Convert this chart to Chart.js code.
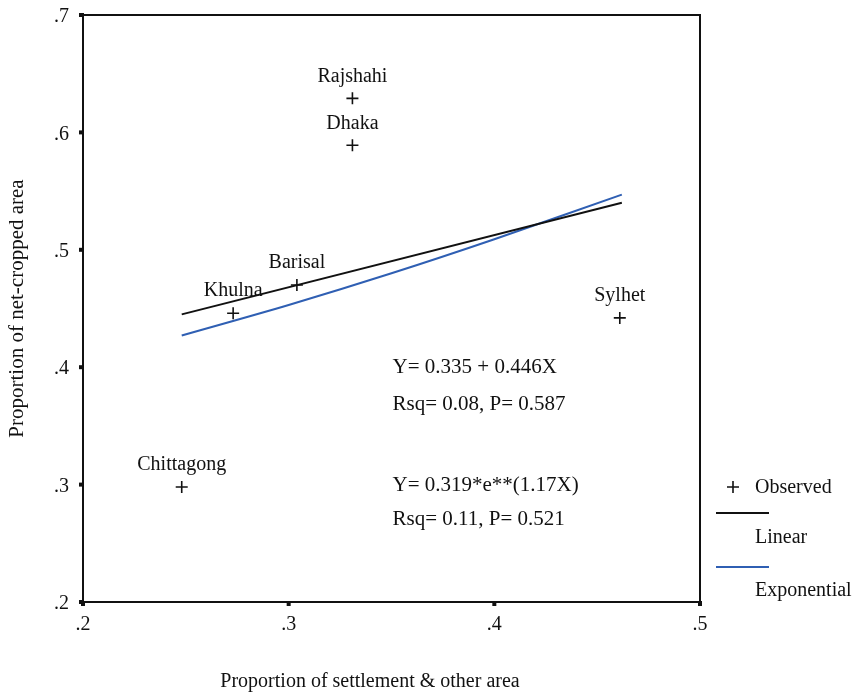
<!DOCTYPE html>
<html>
<head>
<meta charset="utf-8">
<script src="https://cdn.jsdelivr.net/npm/chart.js@4/dist/chart.umd.min.js"></script>
<style>
html,body{margin:0;padding:0;background:#fff;}
canvas{display:block;}
</style>
</head>
<body>
<canvas id="c" width="857" height="697"></canvas>
<script>
// ---- Data ----
const regions = ['Chittagong', 'Khulna', 'Barisal', 'Rajshahi', 'Dhaka', 'Sylhet'];
const settlementShare = [0.248, 0.273, 0.304, 0.331, 0.331, 0.461];
const netCroppedShare = [0.298, 0.446, 0.470, 0.629, 0.589, 0.442];

const linearX = [0.248, 0.462];
const linearY = [0.445, 0.540];

const expX = [0.248, 0.300, 0.350, 0.400, 0.462];
const expY = [0.427, 0.453, 0.480, 0.509, 0.547];

const xTickValues = [0.2, 0.3, 0.4, 0.5];
const yTickValues = [0.2, 0.3, 0.4, 0.5, 0.6, 0.7];

const fitTexts = ['Y= 0.335 + 0.446X', 'Rsq= 0.08, P= 0.587', 'Y= 0.319*e**(1.17X)', 'Rsq= 0.11, P= 0.521'];
const legendLabels = ['Observed', 'Linear', 'Exponential'];
const xTitle = 'Proportion of settlement & other area';
const yTitle = 'Proportion of net-cropped area';

// ---- Build datasets ----
const toPts = (xs, ys) => xs.map((x, i) => ({x: x, y: ys[i]}));
const FONT = "'Liberation Serif', 'DejaVu Serif', serif";
const BLUE = '#2f5fb3';
const fmt = v => Number(v).toFixed(1).replace(/^0/, '');

const overlay = {
  id: 'overlay',
  afterDraw(chart) {
    const ctx = chart.ctx;
    const a = chart.chartArea;
    const xs = chart.scales.x, ys = chart.scales.y;
    ctx.save();
    // frame
    ctx.strokeStyle = '#111';
    ctx.lineWidth = 2;
    ctx.strokeRect(a.left, a.top, a.right - a.left, a.bottom - a.top);
    // tick squares
    ctx.fillStyle = '#111';
    xTickValues.forEach(v => {
      const px = xs.getPixelForValue(v);
      ctx.fillRect(px - 2, a.bottom - 1, 4, 5);
    });
    yTickValues.forEach(v => {
      const py = ys.getPixelForValue(v);
      ctx.fillRect(a.left - 4, py - 2, 5, 4);
    });
    // point labels
    ctx.font = '20px ' + FONT;
    ctx.textAlign = 'center';
    ctx.textBaseline = 'middle';
    const meta = chart.getDatasetMeta(0);
    meta.data.forEach((el, i) => {
      ctx.fillText(regions[i], el.x, el.y - 22);
    });
    // x axis title
    ctx.fillText(xTitle, 370, 682);
    // fit annotations
    ctx.font = '21px ' + FONT;
    ctx.textAlign = 'left';
    const tx = xs.getPixelForValue(0.3505);
    const tys = [0.400, 0.368, 0.299, 0.2705];
    fitTexts.forEach((t, i) => ctx.fillText(t, tx, ys.getPixelForValue(tys[i])));
    // legend
    ctx.font = '20px ' + FONT;
    ctx.strokeStyle = '#111';
    ctx.lineWidth = 1.6;
    ctx.beginPath();
    ctx.moveTo(727, 487); ctx.lineTo(739, 487);
    ctx.moveTo(733, 481); ctx.lineTo(733, 493);
    ctx.stroke();
    ctx.fillText(legendLabels[0], 755, 488);
    ctx.lineWidth = 2;
    ctx.beginPath(); ctx.moveTo(716, 513); ctx.lineTo(769, 513); ctx.stroke();
    ctx.fillText(legendLabels[1], 755, 538);
    ctx.strokeStyle = BLUE;
    ctx.beginPath(); ctx.moveTo(716, 567); ctx.lineTo(769, 567); ctx.stroke();
    ctx.fillText(legendLabels[2], 755, 591);
    ctx.restore();
  }
};

new Chart(document.getElementById('c'), {
  type: 'scatter',
  data: {
    datasets: [
      {
        label: legendLabels[0],
        data: toPts(settlementShare, netCroppedShare),
        pointStyle: 'cross',
        pointRadius: 6,
        pointBorderWidth: 1.6,
        borderColor: '#111',
        backgroundColor: '#111',
        showLine: false,
        order: 0
      },
      {
        label: legendLabels[1],
        data: toPts(linearX, linearY),
        showLine: true,
        borderColor: '#111',
        borderWidth: 2,
        pointRadius: 0,
        order: 1
      },
      {
        label: legendLabels[2],
        data: toPts(expX, expY),
        showLine: true,
        borderColor: BLUE,
        borderWidth: 2,
        pointRadius: 0,
        tension: 0.3,
        order: 2
      }
    ]
  },
  options: {
    responsive: false,
    animation: false,
    devicePixelRatio: 1,
    layout: {padding: {left: 0, top: 15, right: 157, bottom: 0}},
    plugins: {legend: {display: false}, tooltip: {enabled: false}},
    scales: {
      x: {
        type: 'linear',
        min: 0.2, max: 0.5,
        afterBuildTicks: s => { s.ticks = xTickValues.map(v => ({value: v})); },
        ticks: {callback: v => fmt(v), color: '#111', font: {family: FONT, size: 20}, padding: 3, maxRotation: 0},
        grid: {display: false, drawTicks: true, tickLength: 8},
        border: {display: false},
        title: {display: false},
        afterFit: s => { s.height = 95; }
      },
      y: {
        type: 'linear',
        min: 0.2, max: 0.7,
        afterBuildTicks: s => { s.ticks = yTickValues.map(v => ({value: v})); },
        ticks: {callback: v => fmt(v), color: '#111', font: {family: FONT, size: 20, lineHeight: 0.9}, padding: 6, labelOffset: 2},
        grid: {display: false, drawTicks: true, tickLength: 8},
        border: {display: false},
        title: {display: true, text: yTitle, color: '#111', font: {family: FONT, size: 21}, padding: {top: 5, bottom: 0}},
        afterFit: s => { s.width = 83; }
      }
    }
  },
  plugins: [overlay, {
    id: 'bg',
    beforeDraw(chart) {
      const c = chart.ctx;
      c.save(); c.fillStyle = '#fff'; c.fillRect(0, 0, chart.width, chart.height); c.restore();
    }
  }]
});
</script>
</body>
</html>
